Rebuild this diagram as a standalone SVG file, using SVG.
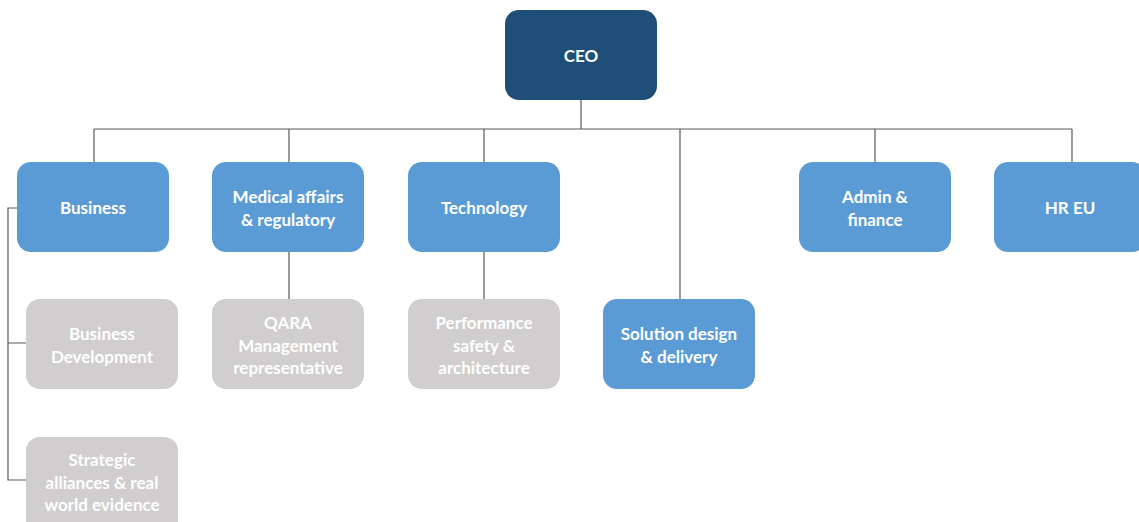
<svg xmlns="http://www.w3.org/2000/svg" width="1139" height="522" viewBox="0 0 1139 522">
<style>
.ceo{fill:#1F4E79}
.blue{fill:#5B9BD5}
.grey{fill:#D0CECE}
text{font-family:Lato,"Open Sans","Liberation Sans",sans-serif;font-weight:bold;font-size:17px;fill:#FFFFFF;text-anchor:middle;dominant-baseline:central}
.conn{stroke:#595959;stroke-width:1.2;fill:none}
</style>
<g id="connectors">
<path class="conn" d="M581,100 V129 M94,129 H1072 M94,129 V162 M289,129 V162 M484,129 V162 M680,129 V299 M875,129 V162 M1072,129 V162"/>
<path class="conn" d="M289,252 V299 M484,252 V299"/>
<path class="conn" d="M17,208 H8 V480 H26 M8,343 H26"/>
</g>
<g id="ceo"><rect class="ceo" x="505" y="10" width="152" height="90" rx="14"/><text x="581" y="55">CEO</text></g>
<g id="business"><rect class="blue" x="17" y="162" width="152" height="90" rx="14"/><text x="93" y="207">Business</text></g>
<g id="medical"><rect class="blue" x="212" y="162" width="152" height="90" rx="14"/><text x="288" y="196">Medical affairs</text><text x="288" y="219">&amp; regulatory</text></g>
<g id="technology"><rect class="blue" x="408" y="162" width="152" height="90" rx="14"/><text x="484" y="207">Technology</text></g>
<g id="admin"><rect class="blue" x="799" y="162" width="152" height="90" rx="14"/><text x="875" y="196">Admin &amp;</text><text x="875" y="219">finance</text></g>
<g id="hr"><rect class="blue" x="994" y="162" width="152" height="90" rx="14"/><text x="1070" y="207">HR EU</text></g>
<g id="solution"><rect class="blue" x="603" y="299" width="152" height="90" rx="14"/><text x="679" y="333">Solution design</text><text x="679" y="356">&amp; delivery</text></g>
<g id="bizdev"><rect class="grey" x="26" y="299" width="152" height="90" rx="14"/><text x="102" y="333">Business</text><text x="102" y="356">Development</text></g>
<g id="qara"><rect class="grey" x="212" y="299" width="152" height="90" rx="14"/><text x="288" y="322">QARA</text><text x="288" y="345">Management</text><text x="288" y="367">representative</text></g>
<g id="performance"><rect class="grey" x="408" y="299" width="152" height="90" rx="14"/><text x="484" y="322">Performance</text><text x="484" y="345">safety &amp;</text><text x="484" y="367">architecture</text></g>
<g id="strategic"><rect class="grey" x="26" y="437" width="152" height="100" rx="14"/><text x="102" y="459">Strategic</text><text x="102" y="482">alliances &amp; real</text><text x="102" y="504">world evidence</text></g>
</svg>
